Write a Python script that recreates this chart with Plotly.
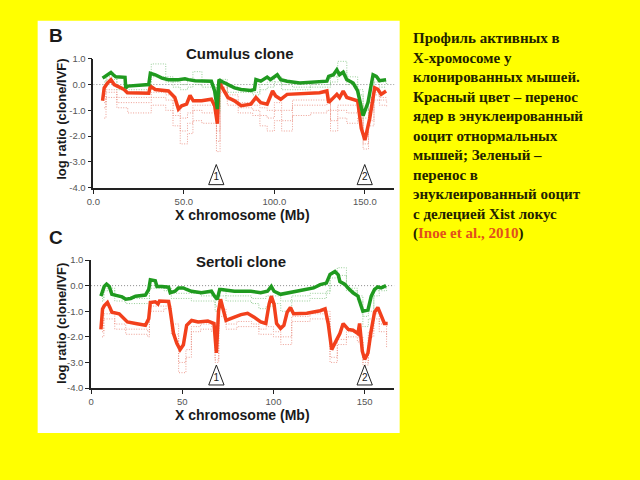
import plotly.graph_objects as go

W, H = 640, 480
def px(x): return x / W
def py(y): return 1 - y / H

# ---------------- DATA ----------------
# Panel B (Cumulus clone) main profiles
b_green_x = [5.1, 7.8, 9.7, 11.0, 12.4, 17.5, 17.9, 19.0, 30.6, 31.5, 34.2, 37.9, 41.5, 47.0, 50.6, 52.5, 56.2, 65.2, 67.0, 68.5, 69.4, 70.7, 74.3, 78.0, 81.6, 87.0, 89.0, 89.8, 92.5, 96.0, 97.8, 101.6, 103.5, 107.0, 114.0, 125.0, 129.0, 130.0, 132.6, 134.5, 136.0, 138.0, 140.0, 143.5, 146.0, 149.0, 151.7, 154.5, 156.3, 158.0, 161.7]
b_green_y = [0.25, 0.38, 0.47, 0.38, 0.30, 0.28, -0.13, -0.06, 0.0, 0.44, 0.38, 0.25, 0.19, 0.19, 0.22, 0.19, 0.15, 0.13, -0.25, -0.95, 0.19, 0.13, 0.0, -0.13, -0.19, -0.23, -0.19, 0.19, 0.13, 0.29, 0.19, 0.38, 0.19, 0.13, 0.06, 0.09, 0.13, 0.32, 0.38, 0.57, 0.38, 0.48, 0.19, 0.06, -0.25, -1.20, -0.70, 0.38, 0.32, 0.15, 0.19]
b_red_x = [5.1, 6.0, 7.8, 9.7, 11.5, 17.0, 18.8, 30.6, 31.5, 34.2, 41.5, 45.0, 47.0, 48.8, 51.5, 53.4, 55.2, 59.8, 65.2, 67.0, 68.5, 69.4, 70.7, 74.3, 78.0, 81.6, 87.0, 89.8, 92.5, 96.0, 99.0, 100.7, 103.5, 107.0, 125.0, 129.0, 130.0, 132.6, 134.5, 136.0, 138.0, 140.0, 146.0, 148.0, 150.0, 152.6, 155.4, 157.2, 159.0, 161.7]
b_red_y = [-0.63, -0.13, 0.06, 0.19, 0.0, -0.19, -0.32, -0.34, -0.06, -0.19, -0.25, -0.50, -0.95, -0.82, -0.76, -0.42, -0.63, -0.63, -0.57, -0.82, -1.52, 0.13, -0.06, -0.50, -0.63, -0.82, -0.76, -0.50, -0.70, -0.76, -0.25, -0.44, -0.57, -0.38, -0.32, -0.25, -0.70, -0.51, -0.38, -0.51, -0.25, -0.50, -0.63, -1.70, -2.15, -1.33, -0.13, -0.19, -0.38, -0.25]

# thin replicate profiles (shared positions)
dot_x = [6, 7, 12, 13, 18, 19, 31, 32, 40, 44, 48, 52, 55, 60, 66, 68, 70, 74, 80, 88, 92, 96, 100, 104, 110, 120, 129, 131, 135, 140, 146, 149, 152, 155, 158, 162]
b_red_dot1 = [-1.3, -0.5, -0.5, -0.9, -0.9, -1.1, -1.1, -0.8, -1.0, -1.6, -2.3, -1.9, -1.4, -1.5, -1.5, -2.6, -0.3, -0.8, -1.1, -1.2, -1.6, -1.8, -1.4, -1.8, -1.2, -1.1, -1.0, -1.8, -1.3, -1.5, -1.3, -2.5, -1.6, -0.6, -0.8, -0.9]
b_red_dot2 = [-0.9, -0.3, -0.3, -0.7, -0.7, -0.7, -0.7, -0.5, -0.6, -1.2, -1.8, -1.5, -1.0, -1.1, -1.1, -2.2, -0.1, -0.6, -0.9, -1.0, -1.2, -1.3, -1.0, -1.4, -0.8, -0.8, -0.7, -1.4, -1.0, -1.1, -1.0, -2.3, -1.4, -0.4, -0.6, -0.7]
b_red_dot3 = [-0.7, -0.2, -0.2, -0.5, -0.5, -0.5, -0.5, -0.3, -0.4, -0.8, -1.3, -1.1, -0.8, -0.8, -0.8, -1.8, 0.0, -0.4, -0.7, -0.8, -0.9, -1.0, -0.7, -1.0, -0.6, -0.6, -0.5, -1.0, -0.8, -0.8, -0.8, -2.0, -1.0, -0.3, -0.5, -0.5]
b_green_dot1 = [0.1, 0.3, 0.3, -0.1, -0.2, -0.2, -0.1, 0.8, 0.3, 0.1, 0.0, 0.2, 0.5, 0.1, 0.0, -0.9, 0.2, -0.1, -0.2, -0.3, 0.0, 0.1, 0.3, 0.0, -0.1, 0.0, 0.0, 0.3, 0.9, 0.3, -0.2, -1.0, -0.5, 0.3, 0.1, 0.0]
b_green_dot2 = [0.0, 0.2, 0.2, -0.2, -0.3, -0.3, -0.2, 0.3, 0.1, -0.1, -0.2, -0.1, 0.0, -0.1, -0.1, -1.1, 0.1, -0.3, -0.3, -0.4, -0.2, -0.1, 0.1, -0.2, -0.2, -0.1, -0.1, 0.1, 0.5, 0.0, -0.4, -1.3, -0.7, 0.1, -0.1, -0.1]

# Panel C (Sertoli clone) main profiles
c_green_x = [5.4, 6.3, 7.2, 8.5, 10.0, 11.4, 13.5, 17.0, 19.0, 21.7, 24.4, 29.8, 31.6, 32.5, 35.2, 36.1, 38.8, 42.5, 43.4, 46.0, 47.9, 50.6, 52.4, 55.0, 60.5, 66.0, 67.7, 69.2, 70.5, 71.4, 78.6, 87.6, 93.0, 96.7, 98.8, 100.3, 103.9, 107.5, 111.0, 114.7, 122.0, 125.6, 129.0, 131.0, 133.7, 135.5, 136.4, 139.0, 140.9, 143.6, 146.3, 148.0, 149.0, 151.8, 153.6, 155.4, 157.2, 159.0, 161.7]
c_green_y = [-0.41, -0.15, -0.03, 0.06, -0.03, -0.34, -0.37, -0.44, -0.53, -0.50, -0.41, -0.37, -0.15, 0.23, 0.19, -0.03, -0.03, -0.06, -0.28, -0.22, -0.09, -0.09, -0.15, -0.22, -0.28, -0.22, -0.41, -0.53, -0.15, -0.15, -0.22, -0.22, -0.28, -0.22, -0.03, -0.22, -0.34, -0.28, -0.22, -0.19, -0.09, 0.04, 0.10, 0.44, 0.55, 0.42, 0.16, 0.06, -0.09, -0.28, -0.41, -0.79, -1.00, -0.95, -0.41, -0.15, -0.05, -0.09, 0.0]
c_red_x = [5.4, 6.3, 7.2, 9.0, 10.3, 11.4, 15.4, 18.0, 19.9, 24.4, 29.8, 31.6, 32.5, 35.2, 36.7, 37.5, 42.5, 43.4, 45.2, 47.0, 48.8, 50.6, 52.4, 55.1, 58.7, 64.0, 66.0, 67.4, 68.7, 69.9, 71.0, 72.3, 74.0, 78.6, 82.2, 85.8, 89.4, 93.0, 95.8, 97.6, 98.8, 100.3, 101.7, 103.9, 105.7, 107.5, 109.3, 111.0, 118.3, 125.6, 128.3, 130.0, 131.9, 134.6, 136.4, 138.2, 141.0, 143.6, 146.3, 147.2, 148.7, 150.0, 151.8, 153.6, 155.4, 157.2, 159.0, 160.8, 162.6]
c_red_y = [-1.71, -0.91, -0.79, -0.66, -0.85, -1.04, -1.10, -1.29, -1.42, -1.48, -1.55, -1.29, -0.66, -0.63, -0.72, -0.60, -0.62, -0.98, -1.87, -2.25, -2.50, -2.31, -1.55, -1.36, -1.42, -1.38, -1.42, -1.48, -2.63, -0.98, -0.53, -0.85, -1.36, -1.23, -1.13, -1.08, -1.23, -1.42, -1.48, -0.72, -0.41, -0.72, -1.48, -1.67, -1.55, -1.04, -0.85, -1.10, -1.08, -0.98, -0.91, -1.48, -2.50, -2.12, -1.87, -1.48, -1.71, -1.74, -1.87, -1.48, -2.56, -2.88, -2.63, -1.74, -1.04, -0.85, -1.17, -1.48, -1.48]

c_red_dot1 = [-2.0, -1.3, -1.3, -1.7, -1.7, -1.9, -2.0, -1.0, -0.9, -1.9, -3.4, -2.8, -1.8, -1.7, -1.8, -3.0, -1.2, -1.7, -1.6, -1.6, -1.9, -1.9, -2.0, -2.3, -1.4, -1.3, -1.2, -3.0, -2.3, -2.0, -2.2, -3.1, -2.0, -1.3, -1.8, -2.4]
c_red_dot2 = [-1.8, -1.1, -1.1, -1.5, -1.5, -1.7, -1.8, -0.8, -0.8, -1.5, -3.0, -2.5, -1.6, -1.5, -1.6, -2.9, -0.9, -1.5, -1.4, -1.5, -1.7, -1.6, -1.8, -2.0, -1.2, -1.1, -1.0, -2.8, -2.1, -1.8, -2.0, -3.0, -1.8, -1.1, -1.5, -2.0]
c_green_dot1 = [-0.6, -0.2, -0.2, -0.6, -0.6, -0.7, -0.7, -0.1, -0.2, -0.5, -0.5, -0.5, -0.6, -0.6, -0.6, -1.0, -0.4, -0.6, -0.6, -0.7, -0.9, -0.8, -0.7, -1.0, -0.6, -0.5, -0.3, 0.5, 0.7, -0.2, -0.6, -1.6, -1.3, -0.4, -0.2, -0.1]
c_green_dot2 = [-0.5, -0.1, -0.1, -0.4, -0.5, -0.5, -0.5, 0.0, -0.1, -0.3, -0.3, -0.3, -0.3, -0.4, -0.4, -0.8, -0.2, -0.4, -0.4, -0.5, -0.5, -0.4, -0.4, -0.6, -0.4, -0.3, -0.2, 0.3, 0.4, -0.1, -0.4, -1.2, -1.0, -0.2, -0.1, 0.0]

# triangle markers (position in Mb, label)
b_marks_x = [67.9, 149.9]
c_marks_x = [68.7, 150.0]
marks_labels = ["1", "2"]

# ticks
y_ticks = [-4, -3, -2, -1, 0, 1]
y_ticktext = ["-4.0", "-3.0", "-2.0", "-1.0", "0.0", "1.0"]
x_ticks = [0, 50, 100, 150]
b_x_ticktext = ["0.0", "50.0", "100.0", "150.0"]
c_x_ticktext = ["0", "50", "100", "150"]
x_range = [0, 166.3]

# ---------------- FIGURE ----------------
GREEN = "#1F9A1F"
RED = "#F2401C"
GREEN_T = "#7CC27C"
RED_T = "#E8887A"

fig = go.Figure()

def add_panel(xa, ya, gx, gy, rx, ry, rdots, gdots, marks_x):
    fig.add_trace(go.Scatter(x=x_range, y=[0, 0], mode="lines", xaxis=xa, yaxis=ya,
                             line=dict(color="#888888", width=1, dash="1px,2px"), hoverinfo="skip"))
    for d in rdots:
        fig.add_trace(go.Scatter(x=dot_x, y=d, mode="lines", xaxis=xa, yaxis=ya, line_shape="hv",
                                 line=dict(color=RED_T, width=0.8, dash="1px,1.5px")))
    for d in gdots:
        fig.add_trace(go.Scatter(x=dot_x, y=d, mode="lines", xaxis=xa, yaxis=ya, line_shape="hv",
                                 line=dict(color=GREEN_T, width=0.8, dash="1px,1.5px")))
    fig.add_trace(go.Scatter(x=rx, y=ry, mode="lines", xaxis=xa, yaxis=ya,
                             line=dict(color=RED, width=3.5)))
    fig.add_trace(go.Scatter(x=gx, y=gy, mode="lines", xaxis=xa, yaxis=ya,
                             line=dict(color=GREEN, width=3.5)))
    for mx, lab in zip(marks_x, marks_labels):
        fig.add_trace(go.Scatter(x=[mx - 4.2, mx, mx + 4.2, mx - 4.2], y=[-3.88, -3.1, -3.88, -3.88],
                                 mode="lines", fill="toself", fillcolor="white", xaxis=xa, yaxis=ya,
                                 line=dict(color="#222222", width=1)))
        fig.add_trace(go.Scatter(x=[mx], y=[-3.62], mode="text", text=[lab], xaxis=xa, yaxis=ya,
                                 textfont=dict(family="Liberation Sans", size=10, color="#222222")))

add_panel("x", "y", b_green_x, b_green_y, b_red_x, b_red_y,
          [b_red_dot1, b_red_dot2, b_red_dot3], [b_green_dot1, b_green_dot2], b_marks_x)
add_panel("x2", "y2", c_green_x, c_green_y, c_red_x, c_red_y,
          [c_red_dot1, c_red_dot2], [c_green_dot1, c_green_dot2], c_marks_x)

axis_common = dict(showline=True, linecolor="#222222", linewidth=1.6, ticks="outside", ticklen=4,
                   tickcolor="#222222", tickwidth=1.2, showgrid=False, zeroline=False,
                   tickfont=dict(family="Liberation Sans", size=9.5, color="#555555"))

fig.update_layout(
    width=W, height=H, margin=dict(l=0, r=0, t=0, b=0),
    paper_bgcolor="#FFFF00", plot_bgcolor="rgba(0,0,0,0)", showlegend=False,
    xaxis=dict(domain=[px(87.3), px(391.7)], range=x_range, tickvals=x_ticks, ticktext=b_x_ticktext,
               anchor="y", **axis_common),
    yaxis=dict(domain=[py(186), py(54)], range=[-4, 1], tickvals=y_ticks, ticktext=y_ticktext,
               anchor="x", **axis_common),
    xaxis2=dict(domain=[px(85), px(391.7)], range=x_range, tickvals=x_ticks, ticktext=c_x_ticktext,
                anchor="y2", **axis_common),
    yaxis2=dict(domain=[py(391), py(260)], range=[-4, 1], tickvals=y_ticks, ticktext=y_ticktext,
                anchor="x2", **axis_common),
)

fig.add_shape(type="rect", xref="paper", yref="paper", x0=px(31), x1=px(397), y0=py(437), y1=py(15),
              fillcolor="white", line=dict(width=0), layer="below")

bold = dict(family="Liberation Sans", color="#1a1a1a")
ann = []
ann.append(dict(x=px(50), y=py(30), text="<b>B</b>", font=dict(size=19, **bold)))
ann.append(dict(x=px(50), y=py(237), text="<b>C</b>", font=dict(size=19, **bold)))
ann.append(dict(x=px(236), y=py(49), text="<b>Cumulus clone</b>", font=dict(size=15, **bold)))
ann.append(dict(x=px(237), y=py(262), text="<b>Sertoli clone</b>", font=dict(size=15, **bold)))
ann.append(dict(x=px(238), y=py(214), text="<b>X chromosome (Mb)</b>", font=dict(size=14, **bold)))
ann.append(dict(x=px(238), y=py(419), text="<b>X chromosome (Mb)</b>", font=dict(size=14, **bold)))
ann.append(dict(x=px(55), y=py(116), text="<b>log ratio (clone/IVF)</b>", textangle=-90, font=dict(size=13, **bold)))
ann.append(dict(x=px(55), y=py(325), text="<b>log ratio (clone/IVF)</b>", textangle=-90, font=dict(size=13, **bold)))

for a in ann:
    a.update(xanchor="center", yanchor="middle")

side_text = ("<b>Профиль активных в<br>X-хромосоме у<br>клонированных мышей.<br>"
             "Красный цвет – перенос<br>ядер в энуклеированный<br>ооцит отнормальных<br>"
             "мышей; Зеленый –<br>перенос в<br>энуклеированный ооцит<br>с делецией Xist локус<br>"
             "(<span style='color:#E2501C'>Inoe et al., 2010</span>)</b>")
ann.append(dict(x=px(408), y=py(23), xanchor="left", yanchor="top", align="left", text=side_text,
                font=dict(family="Liberation Serif", size=15, color="#222200")))

for a in ann:
    a.setdefault("xref", "paper"); a.setdefault("yref", "paper"); a.setdefault("showarrow", False)
    fig.add_annotation(**a)

fig.write_html("out.html", post_script="document.body.style.margin='0px';")
